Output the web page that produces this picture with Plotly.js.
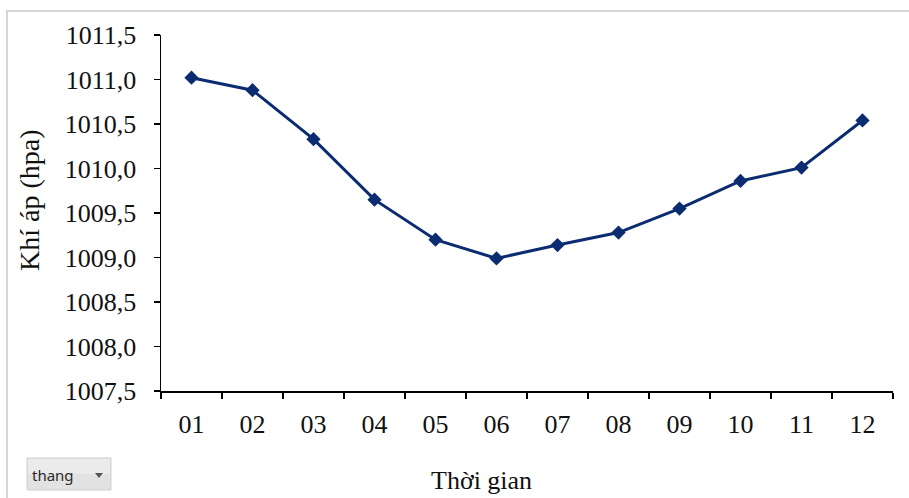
<!DOCTYPE html>
<html>
<head>
<meta charset="utf-8">
<script src="https://cdn.plot.ly/plotly-3.0.1.min.js"></script>
<style>
  html, body { margin: 0; padding: 0; background: #ffffff; }
  #chart { width: 909px; height: 498px; }
</style>
</head>
<body>
<div id="chart"></div>
<script>
// Monthly mean air pressure (hPa)
const months = ["01", "02", "03", "04", "05", "06", "07", "08", "09", "10", "11", "12"];
const pressure = [1011.02, 1010.88, 1010.33, 1009.65, 1009.20, 1008.99, 1009.14, 1009.28, 1009.55, 1009.86, 1010.01, 1010.54];
const yTitle = "Khí áp (hpa)";
const xTitle = "Thời gian";
const filterLabel = "thang";

const W = 909, H = 498;
const M = { l: 161, r: 16, t: 35, b: 107 };
const PW = W - M.l - M.r, PH = H - M.t - M.b;
// pixel -> paper coordinates
const px = x => (x - M.l) / PW;
const py = y => (H - M.b - y) / PH;

const serif = "Liberation Serif, Times New Roman, serif";
const ink = "#111111";
const navy = "#0c2c72";

const trace = {
  type: "scatter",
  mode: "lines+markers",
  x: months,
  y: pressure,
  line: { color: navy, width: 3 },
  marker: { symbol: "diamond", size: 11, color: navy },
  hoverinfo: "x+y"
};

const layout = {
  width: W,
  height: H,
  margin: M,
  paper_bgcolor: "#ffffff",
  plot_bgcolor: "#ffffff",
  showlegend: false,
  separators: ",.",
  font: { family: serif, color: ink, size: 26 },
  xaxis: {
    type: "category",
    range: [-0.5, 11.5],
    tickson: "boundaries",
    ticks: "outside",
    ticklen: 6,
    tickwidth: 1.5,
    tickcolor: "#000",
    showline: true,
    linecolor: "#000",
    linewidth: 1.5,
    showgrid: false,
    zeroline: false,
    tickfont: { family: serif, size: 26, color: ink },
    ticklabelstandoff: 9
  },
  yaxis: {
    range: [1007.5, 1011.5],
    dtick: 0.5,
    tick0: 1007.5,
    tickformat: ".1f",
    ticks: "outside",
    ticklen: 6,
    tickwidth: 1.5,
    tickcolor: "#000",
    showline: true,
    linecolor: "#000",
    linewidth: 1.5,
    showgrid: false,
    zeroline: false,
    tickfont: { family: serif, size: 26, color: ink },
    ticklabelstandoff: 12
  },
  shapes: [
    // outer chart frame
    { type: "rect", xref: "paper", yref: "paper", x0: px(7), x1: px(1000), y0: py(600), y1: py(11),
      line: { color: "#d6d6d6", width: 2 }, fillcolor: "rgba(0,0,0,0)", layer: "below" },
    // filter button
    { type: "rect", xref: "paper", yref: "paper", x0: px(27), x1: px(111), y0: py(490), y1: py(458),
      line: { color: "#cfcfcf", width: 1 }, fillcolor: "#e2e2e2" },
    { type: "rect", xref: "paper", yref: "paper", x0: px(28), x1: px(110), y0: py(474), y1: py(459),
      line: { width: 0 }, fillcolor: "#ebebeb" },
    // dropdown arrow
    { type: "path", xref: "paper", yref: "paper",
      path: `M ${px(95)} ${py(473)} L ${px(103)} ${py(473)} L ${px(99)} ${py(478)} Z`,
      line: { width: 0 }, fillcolor: "#555555" }
  ],
  annotations: [
    { text: yTitle, xref: "paper", yref: "paper", x: px(29), y: py(200), textangle: -90,
      showarrow: false, xanchor: "center", yanchor: "middle",
      font: { family: serif, size: 28, color: ink } },
    { text: xTitle, xref: "paper", yref: "paper", x: px(481), y: py(497),
      showarrow: false, xanchor: "center", yanchor: "bottom",
      font: { family: serif, size: 26, color: ink } },
    { text: filterLabel, xref: "paper", yref: "paper", x: px(53), y: py(475),
      showarrow: false, xanchor: "center", yanchor: "middle",
      font: { family: "Noto Sans, DejaVu Sans, sans-serif", size: 15, color: "#2a2a2a" } }
  ]
};

Plotly.newPlot("chart", [trace], layout, { displayModeBar: false, staticPlot: true });
</script>
</body>
</html>
